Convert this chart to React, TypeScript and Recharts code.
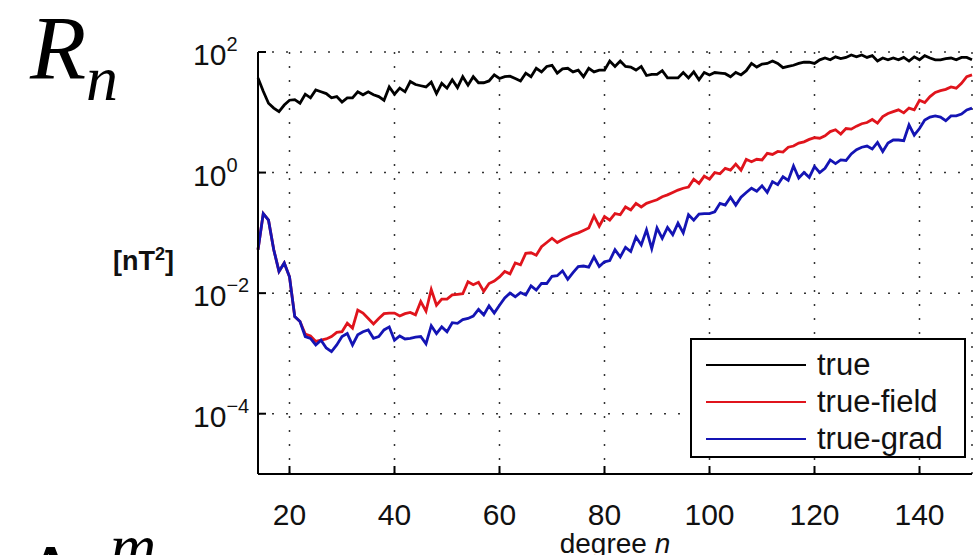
import { LineChart, Line, XAxis, YAxis, CartesianGrid, Legend } from 'recharts'

// spherical-harmonic degree n
const degrees = [
  14, 15, 16, 17, 18, 19, 20, 21, 22, 23, 24, 25, 26, 27, 28, 29, 30, 31, 32, 33, 34, 35, 36, 37, 38, 39, 40, 41, 42,
  43, 44, 45, 46, 47, 48, 49, 50, 51, 52, 53, 54, 55, 56, 57, 58, 59, 60, 61, 62, 63, 64, 65, 66, 67, 68, 69, 70, 71,
  72, 73, 74, 75, 76, 77, 78, 79, 80, 81, 82, 83, 84, 85, 86, 87, 88, 89, 90, 91, 92, 93, 94, 95, 96, 97, 98, 99, 100,
  101, 102, 103, 104, 105, 106, 107, 108, 109, 110, 111, 112, 113, 114, 115, 116, 117, 118, 119, 120, 121, 122, 123,
  124, 125, 126, 127, 128, 129, 130, 131, 132, 133, 134, 135, 136, 137, 138, 139, 140, 141, 142, 143, 144, 145, 146,
  147, 148, 149, 150,
]

// log10 of R_n [nT^2]
const trueLog = [
  1.57, 1.35, 1.15, 1.07, 1.01, 1.12, 1.2, 1.21, 1.15, 1.3, 1.24, 1.37, 1.34, 1.31, 1.24, 1.26, 1.17, 1.24, 1.24, 1.34,
  1.29, 1.34, 1.29, 1.26, 1.2, 1.42, 1.3, 1.4, 1.34, 1.51, 1.46, 1.44, 1.42, 1.5, 1.31, 1.48, 1.4, 1.54, 1.41, 1.59,
  1.45, 1.59, 1.49, 1.49, 1.52, 1.62, 1.56, 1.59, 1.6, 1.56, 1.52, 1.65, 1.59, 1.73, 1.67, 1.76, 1.78, 1.65, 1.72, 1.73,
  1.67, 1.7, 1.59, 1.73, 1.67, 1.7, 1.7, 1.85, 1.76, 1.85, 1.76, 1.75, 1.7, 1.76, 1.61, 1.63, 1.63, 1.69, 1.57, 1.57,
  1.57, 1.66, 1.57, 1.67, 1.54, 1.66, 1.62, 1.66, 1.65, 1.64, 1.59, 1.66, 1.62, 1.69, 1.81, 1.75, 1.8, 1.81, 1.85, 1.81,
  1.74, 1.76, 1.78, 1.81, 1.83, 1.83, 1.81, 1.87, 1.9, 1.87, 1.92, 1.89, 1.91, 1.95, 1.92, 1.95, 1.91, 1.94, 1.85, 1.9,
  1.87, 1.9, 1.87, 1.91, 1.85, 1.92, 1.87, 1.94, 1.9, 1.87, 1.87, 1.89, 1.9, 1.87, 1.91, 1.91, 1.87,
]

const fieldLog = [
  -1.28, -0.68, -0.79, -1.28, -1.64, -1.5, -1.73, -2.39, -2.47, -2.68, -2.71, -2.8, -2.78, -2.76, -2.72, -2.65, -2.64,
  -2.5, -2.58, -2.28, -2.33, -2.42, -2.51, -2.42, -2.34, -2.33, -2.33, -2.38, -2.34, -2.32, -2.36, -2.14, -2.3, -1.94,
  -2.2, -2.1, -2.1, -2.03, -2.02, -2.01, -1.81, -1.86, -1.82, -1.97, -1.84, -1.8, -1.73, -1.64, -1.68, -1.5, -1.53,
  -1.34, -1.33, -1.37, -1.23, -1.16, -1.09, -1.16, -1.11, -1.07, -1.03, -1.0, -0.96, -0.92, -0.72, -0.89, -0.73, -0.79,
  -0.68, -0.7, -0.57, -0.62, -0.51, -0.57, -0.51, -0.48, -0.45, -0.4, -0.37, -0.33, -0.29, -0.26, -0.24, -0.11, -0.18,
  -0.06, -0.11, 0.0, -0.02, 0.07, 0.04, 0.14, 0.04, 0.22, 0.18, 0.22, 0.21, 0.32, 0.3, 0.35, 0.34, 0.42, 0.44, 0.49,
  0.51, 0.55, 0.58, 0.57, 0.61, 0.68, 0.71, 0.64, 0.73, 0.72, 0.77, 0.81, 0.83, 0.88, 0.82, 0.93, 0.98, 1.01, 1.04, 0.99,
  1.07, 1.04, 1.2, 1.16, 1.26, 1.33, 1.36, 1.38, 1.42, 1.4, 1.48, 1.59, 1.62,
]

const gradLog = [
  -1.28, -0.68, -0.79, -1.28, -1.64, -1.5, -1.73, -2.39, -2.47, -2.72, -2.75, -2.86, -2.78, -2.91, -2.97, -2.86, -2.72,
  -2.67, -2.86, -2.69, -2.64, -2.61, -2.75, -2.72, -2.61, -2.56, -2.78, -2.71, -2.76, -2.75, -2.73, -2.72, -2.84, -2.54,
  -2.67, -2.56, -2.64, -2.49, -2.5, -2.44, -2.42, -2.38, -2.27, -2.36, -2.21, -2.33, -2.2, -2.08, -2.0, -2.06, -1.99,
  -2.03, -1.88, -1.95, -1.84, -1.84, -1.72, -1.71, -1.63, -1.77, -1.66, -1.56, -1.55, -1.57, -1.4, -1.56, -1.48, -1.46,
  -1.28, -1.4, -1.24, -1.31, -1.07, -1.2, -0.95, -1.26, -0.92, -1.09, -0.91, -1.03, -0.84, -1.0, -0.7, -0.79, -0.69,
  -0.68, -0.68, -0.65, -0.51, -0.54, -0.41, -0.54, -0.41, -0.33, -0.26, -0.31, -0.22, -0.33, -0.15, -0.2, -0.07, -0.13,
  0.11, -0.09, 0.0, -0.08, 0.1, 0.0, 0.07, 0.21, 0.15, 0.21, 0.2, 0.31, 0.38, 0.42, 0.44, 0.39, 0.5, 0.35, 0.49, 0.54,
  0.54, 0.53, 0.79, 0.62, 0.73, 0.87, 0.92, 0.94, 0.92, 0.86, 0.94, 0.94, 0.97, 1.04, 1.07,
]

const xTicks = [20, 40, 60, 80, 100, 120, 140]
const yTickExponents = [-4, -2, 0, 2]

const data = degrees.map((n, i) => ({
  n,
  true: Math.pow(10, trueLog[i]),
  field: Math.pow(10, fieldLog[i]),
  grad: Math.pow(10, gradLog[i]),
}))
const yTicks = yTickExponents.map((e) => Math.pow(10, e))

const FONT = '"Liberation Sans", Arial, Helvetica, sans-serif'
const SERIF = '"Liberation Serif", "Times New Roman", serif'
const TICK = 8

function BottomTick(props: any) {
  const { x, y, payload } = props
  return (
    <g>
      <line x1={x} y1={y} x2={x} y2={y - TICK} stroke="#000" strokeWidth={2} />
      <text x={x} y={y + 51} textAnchor="middle" fontSize={30} fontFamily={FONT} fill="#111">
        {payload.value}
      </text>
    </g>
  )
}

function TopTick(props: any) {
  const { x, y } = props
  return <line x1={x} y1={y} x2={x} y2={y + TICK} stroke="#000" strokeWidth={2} />
}

function LeftTick(props: any) {
  const { x, y, payload } = props
  const exp = Math.round(Math.log10(payload.value))
  return (
    <g>
      <line x1={x} y1={y} x2={x + TICK} y2={y} stroke="#000" strokeWidth={2} />
      <text x={x - 65} y={y + 13} fontSize={30} fontFamily={FONT} fill="#111">
        10
        <tspan fontSize={20} dy={-14}>
          {exp < 0 ? '\u2212' + Math.abs(exp) : exp}
        </tspan>
      </text>
    </g>
  )
}

function RightTick(props: any) {
  const { x, y } = props
  return <line x1={x} y1={y} x2={x - TICK} y2={y} stroke="#000" strokeWidth={2} />
}

function LegendBox({ payload }: any) {
  return (
    <div
      style={{
        width: 276,
        height: 120,
        border: '2px solid #000',
        background: '#fff',
        boxSizing: 'border-box',
        paddingTop: 6,
        fontFamily: FONT,
      }}
    >
      {(payload || []).map((p: any) => (
        <div key={p.value} style={{ display: 'flex', alignItems: 'center', height: 37 }}>
          <div style={{ width: 100, height: 0, borderTop: `2px solid ${p.color}`, marginLeft: 14, marginRight: 11 }} />
          <span style={{ fontSize: 31, color: '#111', lineHeight: '37px' }}>{p.value}</span>
        </div>
      ))}
    </div>
  )
}

export default function App() {
  return (
    <div
      style={{
        position: 'absolute',
        left: 0,
        top: 0,
        width: 973,
        height: 555,
        overflow: 'hidden',
        background: '#fff',
      }}
    >
      <LineChart width={973} height={555} data={data} margin={{ top: 52, right: 1, bottom: 0, left: 198 }}>
        <CartesianGrid stroke="#333" strokeWidth={1.5} strokeDasharray="2 12" />
        <XAxis
          dataKey="n"
          type="number"
          domain={[14, 150]}
          ticks={xTicks}
          height={81}
          tickSize={0}
          tickMargin={0}
          tick={BottomTick}
          axisLine={{ stroke: '#000', strokeWidth: 2 }}
        />
        <XAxis
          xAxisId="top"
          orientation="top"
          dataKey="n"
          type="number"
          domain={[14, 150]}
          ticks={xTicks}
          height={0}
          tickSize={0}
          tickMargin={0}
          tick={TopTick}
          axisLine={{ stroke: '#000', strokeWidth: 2 }}
        />
        <YAxis
          type="number"
          scale="log"
          domain={[1e-5, 100]}
          allowDataOverflow
          ticks={yTicks}
          width={60}
          tickSize={0}
          tickMargin={0}
          tick={LeftTick}
          axisLine={{ stroke: '#000', strokeWidth: 2 }}
        />
        <YAxis
          yAxisId="right"
          orientation="right"
          type="number"
          scale="log"
          domain={[1e-5, 100]}
          allowDataOverflow
          ticks={yTicks}
          width={0}
          tickSize={0}
          tickMargin={0}
          tick={RightTick}
          axisLine={{ stroke: '#000', strokeWidth: 2 }}
        />
        <Legend
          layout="vertical"
          align="center"
          verticalAlign="middle"
          content={LegendBox}
          wrapperStyle={{ position: 'absolute', left: 690, top: 338, width: 276 }}
        />
        <Line type="linear" dataKey="true" name="true" stroke="#000000" strokeWidth={2.8} dot={false} isAnimationActive={false} />
        <Line type="linear" dataKey="field" name="true-field" stroke="#e0141c" strokeWidth={2.8} dot={false} isAnimationActive={false} />
        <Line type="linear" dataKey="grad" name="true-grad" stroke="#1414b4" strokeWidth={2.8} dot={false} isAnimationActive={false} />
      </LineChart>

      <div style={{ position: 'absolute', left: 30, top: 2, fontFamily: SERIF, fontStyle: 'italic', fontSize: 92, lineHeight: '92px', color: '#000' }}>
        R
      </div>
      <div style={{ position: 'absolute', left: 86, top: 47, fontFamily: SERIF, fontStyle: 'italic', fontSize: 64, lineHeight: '64px', color: '#000' }}>
        n
      </div>
      <div style={{ position: 'absolute', left: 113, top: 238, fontFamily: FONT, fontWeight: 'bold', fontSize: 27, lineHeight: '32px', color: '#111' }}>
        [nT<sup style={{ fontSize: 18 }}>2</sup>]
      </div>
      <div style={{ position: 'absolute', left: 0, top: 531, width: 973, textAlign: 'center', paddingLeft: 257, boxSizing: 'border-box', fontFamily: FONT, fontSize: 28, lineHeight: '26px', color: '#111' }}>
        degree <i>n</i>
      </div>
      <div style={{ position: 'absolute', left: 22, top: 532, fontFamily: SERIF, fontSize: 90, lineHeight: '90px', color: '#000' }}>
        Δ
      </div>
      <div style={{ position: 'absolute', left: 110, top: 515, fontFamily: SERIF, fontStyle: 'italic', fontSize: 64, lineHeight: '64px', color: '#000' }}>
        m
      </div>
    </div>
  )
}
